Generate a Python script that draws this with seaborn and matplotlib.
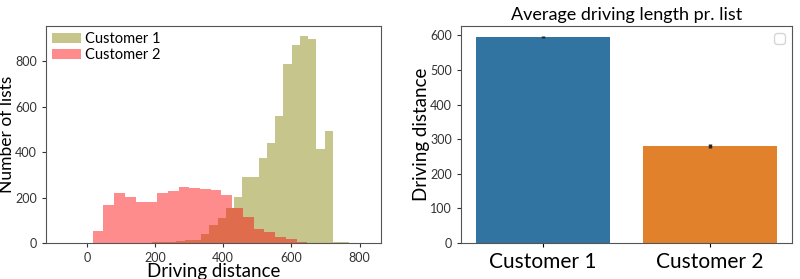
import numpy as np
import pandas as pd
import matplotlib
matplotlib.use("Agg")
import matplotlib.pyplot as plt
import seaborn as sns

# ---- data ----
# Customer 1 histogram: 37 bins from -75 to 818
c1_edges = np.linspace(-75, 818, 38)
c1_counts = [2, 1, 2, 1, 2, 1, 2, 2, 1, 2, 2, 3, 3, 4, 8, 12, 15, 41, 78,
             112, 155, 202, 292, 292, 373, 440, 561, 788, 872, 910, 897,
             412, 492, 4, 3, 2, 2]
# Customer 2 histogram: 20 bins from 17.5 to 646.5
c2_edges = np.linspace(17.5, 646.5, 21)
c2_counts = [52, 167, 221, 202, 180, 180, 222, 228, 246, 242, 239, 232, 212,
             155, 114, 62, 50, 28, 16, 6]

customers = ["Customer 1", "Customer 2"]
mean_distance = [594, 280]
err_distance = [3, 6]

# ---- figure ----
plt.rcParams["font.family"] = ["Lato", "DejaVu Sans"]
fig = plt.figure(figsize=(8.0, 2.79), dpi=100)
ax1 = fig.add_axes([46 / 800, 1 - 243 / 279, 335 / 800, 217 / 279])
ax2 = fig.add_axes([461 / 800, 1 - 243 / 279, 331 / 800, 217 / 279])

h1 = pd.DataFrame({"d": (c1_edges[:-1] + c1_edges[1:]) / 2, "n": c1_counts})
h2 = pd.DataFrame({"d": (c2_edges[:-1] + c2_edges[1:]) / 2, "n": c2_counts})
sns.histplot(data=h1, x="d", weights="n", bins=list(c1_edges), color="olive",
             alpha=0.45, linewidth=0, label="Customer 1", ax=ax1)
sns.histplot(data=h2, x="d", weights="n", bins=list(c2_edges), color="red",
             alpha=0.45, linewidth=0, label="Customer 2", ax=ax1)
ax1.set_xlabel("Driving distance", fontsize=13.5, labelpad=-1)
ax1.set_ylabel("Number of lists", fontsize=12.5)
ax1.yaxis.set_label_coords(-0.092, 0.5)
ax1.set_xticks([0, 200, 400, 600, 800])
ax1.set_yticks([0, 200, 400, 600, 800])
ax1.tick_params(labelsize=9, colors="#333333", length=3)
leg = ax1.legend(loc="upper left", frameon=False, fontsize=10.5,
                 handlelength=2.0, handletextpad=0.3, borderaxespad=0.3,
                 borderpad=0.1, labelspacing=0.15)
for s in ax1.spines.values():
    s.set_color("#555555")

df = pd.DataFrame({"customer": customers, "distance": mean_distance})
sns.barplot(data=df, x="customer", y="distance", hue="customer",
            legend=False, errorbar=None, ax=ax2)
ax2.errorbar(x=[0, 1], y=mean_distance, yerr=err_distance, fmt="none",
             ecolor="#262626", elinewidth=2.5)
ax2.set_ylim(0, 627)
ax2.set_title("Average driving length pr. list", fontsize=13, pad=4)
ax2.set_xlabel("")
ax2.set_ylabel("Driving distance", fontsize=13.5, labelpad=0)
ax2.tick_params(axis="y", labelsize=9, colors="#333333", length=3)
ax2.tick_params(axis="x", labelsize=15, length=3)
ax2.legend(handles=[], loc="upper right")
for s in ax2.spines.values():
    s.set_color("#555555")

fig.savefig("out.png", dpi=100)
